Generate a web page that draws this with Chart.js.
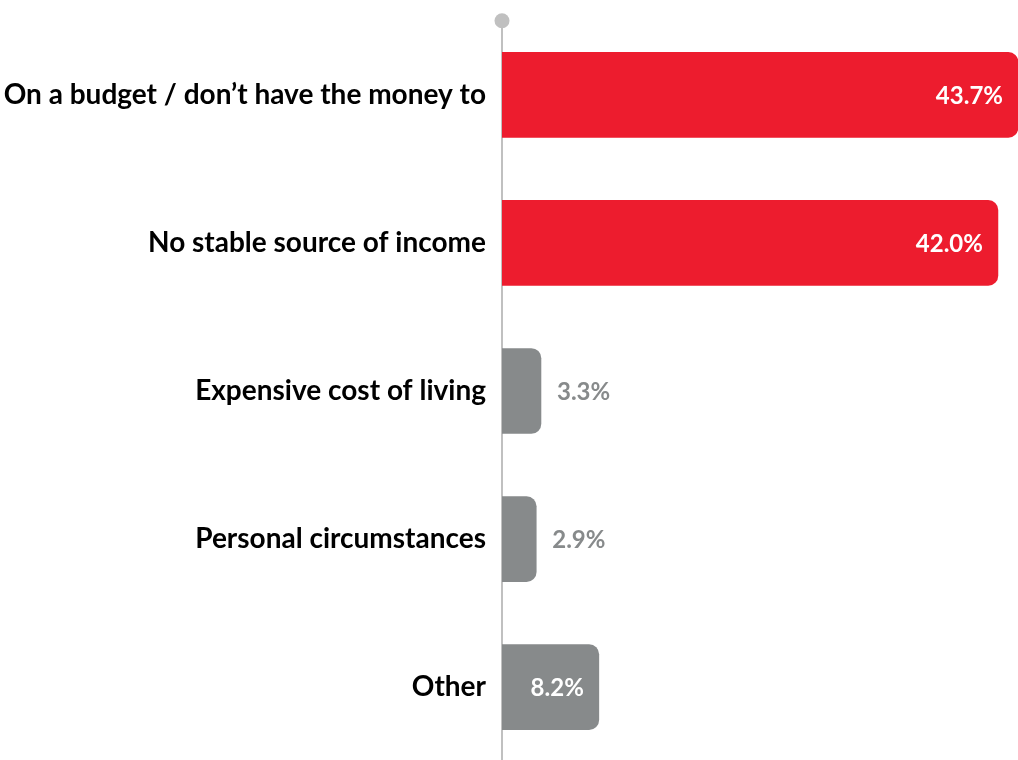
<!DOCTYPE html>
<html>
<head>
<meta charset="utf-8">
<script src="https://cdn.jsdelivr.net/npm/chart.js@4"></script>
<style>
  html, body { margin: 0; padding: 0; background: #fff; overflow: hidden; }
  #wrap { width: 1018px; height: 790px; position: relative; top: -4px; }
</style>
</head>
<body>
<div id="wrap"><canvas id="chart"></canvas></div>
<script>
// ——— DATA ———
const categories = [
    'On a budget / don\u2019t have the money to',
    'No stable source of income',
    'Expensive cost of living',
    'Personal circumstances',
    'Other'
];
const values = [43.7, 42.0, 3.3, 2.9, 8.2];
const valueLabels = ['43.7%', '42.0%', '3.3%', '2.9%', '8.2%'];

const RED = '#ED1C2E';
const GREY = '#878A8B';
const barColors = [RED, RED, GREY, GREY, GREY];
const FONT = 'Lato, "Open Sans", sans-serif';

// axis line with a dot at the top
const axisLine = {
    id: 'axisLine',
    beforeDatasetsDraw(chart) {
        const { ctx, chartArea, scales } = chart;
        const x = scales.x.getPixelForValue(0);
        ctx.save();
        ctx.strokeStyle = '#C0C0C0';
        ctx.lineWidth = 2;
        ctx.beginPath();
        ctx.moveTo(x, chartArea.top);
        ctx.lineTo(x, chart.height);
        ctx.stroke();
        ctx.fillStyle = '#C0C0C0';
        ctx.beginPath();
        ctx.arc(x, chartArea.top, 7.5, 0, Math.PI * 2);
        ctx.fill();
        ctx.restore();
    }
};

// value labels: inside (white) when the bar is wide enough, else outside (grey)
const valueText = {
    id: 'valueText',
    afterDatasetsDraw(chart) {
        const { ctx } = chart;
        const meta = chart.getDatasetMeta(0);
        ctx.save();
        ctx.font = 'bold 24px ' + FONT;
        ctx.textBaseline = 'middle';
        meta.data.forEach((bar, i) => {
            const w = bar.x - bar.base;
            if (w > 80) {
                ctx.fillStyle = '#FFFFFF';
                ctx.textAlign = 'right';
                ctx.fillText(valueLabels[i], bar.x - 15, bar.y + 1);
            } else {
                ctx.fillStyle = GREY;
                ctx.textAlign = 'left';
                ctx.fillText(valueLabels[i], bar.x + 16, bar.y + 1);
            }
        });
        ctx.restore();
    }
};

new Chart(document.getElementById('chart'), {
    type: 'bar',
    data: {
        labels: categories,
        datasets: [{
            data: values,
            backgroundColor: barColors,
            borderRadius: 10,
            borderSkipped: 'start',
            barThickness: 85
        }]
    },
    plugins: [axisLine, valueText],
    options: {
        indexAxis: 'y',
        responsive: true,
        maintainAspectRatio: false,
        animation: false,
        layout: { padding: { top: 8, right: 0, bottom: 0, left: 0 } },
        plugins: { legend: { display: false }, tooltip: { enabled: false } },
        scales: {
            x: {
                display: false,
                min: 0,
                max: 43.7
            },
            y: {
                grid: { display: false },
                border: { display: false },
                afterFit: s => { s.width = 502; },
                ticks: {
                    color: '#000000',
                    padding: 8,
                    font: { family: FONT, size: 28, weight: 'bold' }
                }
            }
        }
    }
});
</script>
</body>
</html>
